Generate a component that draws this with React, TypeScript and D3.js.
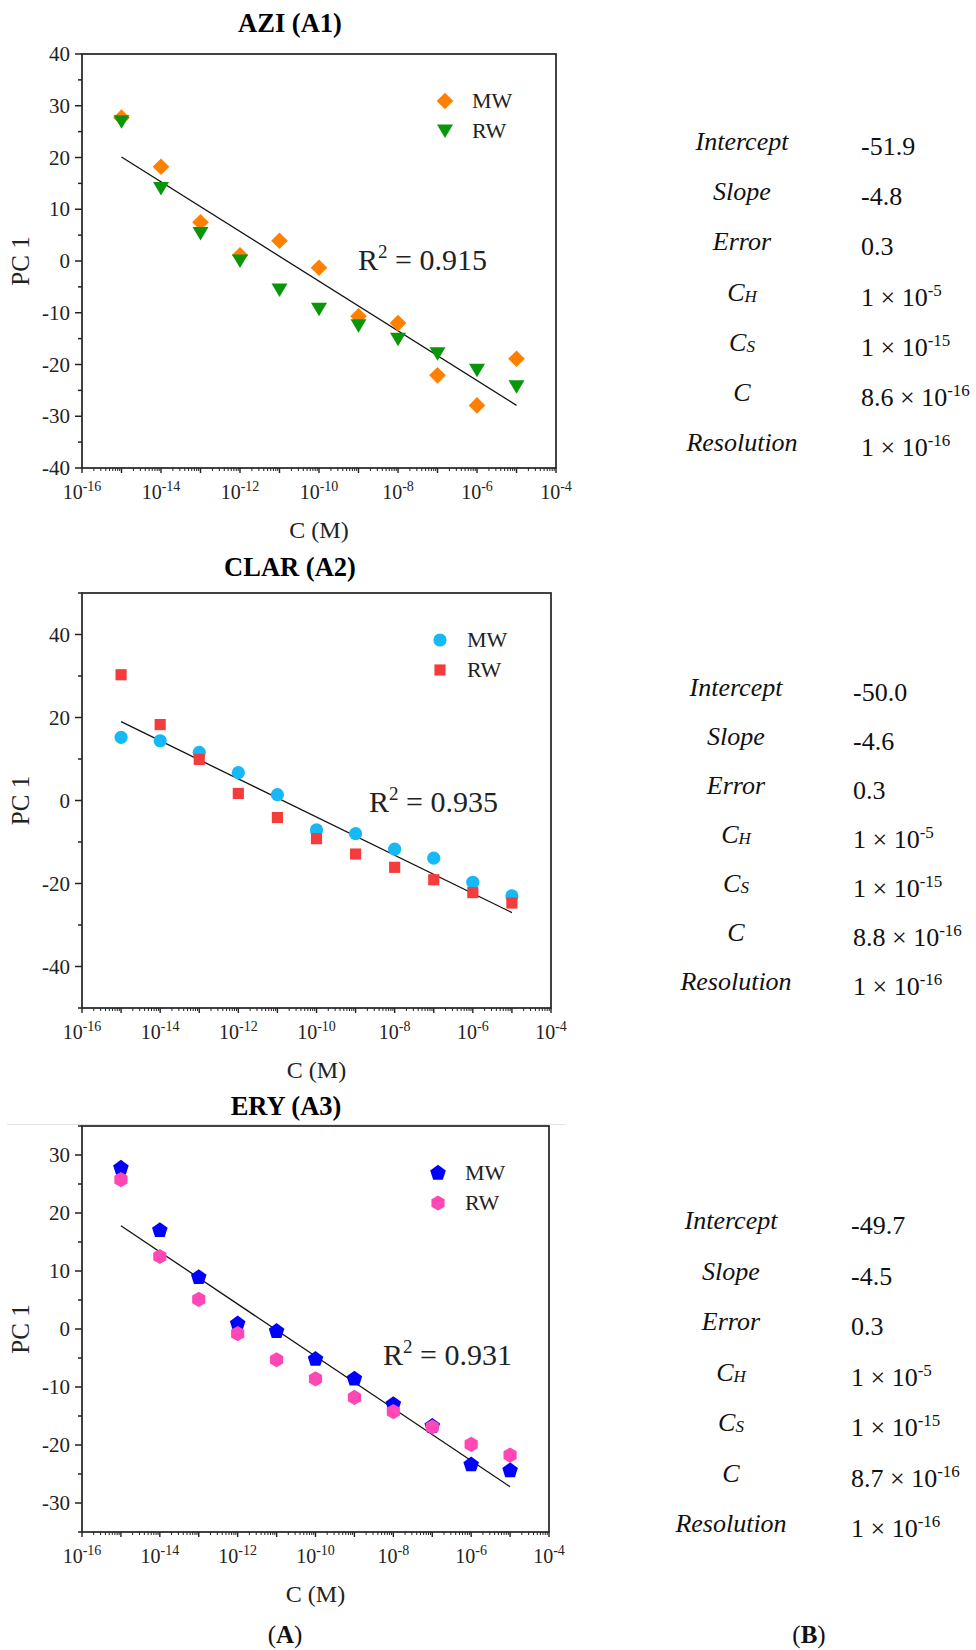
import React from "react";
import * as d3 from "d3";

// concentrations (M) shared by every panel
const concentrations = [1e-15, 1e-14, 1e-13, 1e-12, 1e-11, 1e-10, 1e-9, 1e-8, 1e-7, 1e-6, 1e-5];
const xLabelExponents = [-16, -14, -12, -10, -8, -6, -4];

// PC1 scores
const aziMW = [27.7, 18.2, 7.5, 1.1, 3.9, -1.3, -10.7, -12.0, -22.1, -27.9, -18.9];
const aziRW = [26.9, 14.0, 5.3, 0.0, -5.6, -9.3, -12.5, -15.1, -17.9, -21.1, -24.3];
const clarMW = [15.2, 14.4, 11.6, 6.7, 1.4, -7.1, -8.0, -11.7, -13.9, -19.7, -23.0];
const clarRW = [30.3, 18.3, 9.9, 1.7, -4.1, -9.2, -12.9, -16.1, -19.1, -22.2, -24.7];
const eryMW = [27.75, 17.0, 8.9, 0.9, -0.4, -5.2, -8.6, -13.0, -16.75, -23.4, -24.4];
const eryRW = [25.75, 12.5, 5.1, -0.8, -5.3, -8.6, -11.8, -14.25, -16.9, -19.9, -21.75];

const drugNames = ["AZI", "CLAR", "ERY"];
const panelTags = ["A1", "A2", "A3"];
const fitIntercepts = [-51.9, -50.0, -49.7];
const fitSlopes = [-4.8, -4.6, -4.5];
const r2Values = ["0.915", "0.935", "0.931"];
const yDomains = [[-40, 40], [-50, 50], [-35, 35]];
const yLabelSteps = [10, 20, 10];
const yMinorSteps = [5, 10, 5];

const tableLabels = ["Intercept", "Slope", "Error", "CH", "CS", "C", "Resolution"];
const aziTable = ["-51.9", "-4.8", "0.3", "1 × 10^-5", "1 × 10^-15", "8.6 × 10^-16", "1 × 10^-16"];
const clarTable = ["-50.0", "-4.6", "0.3", "1 × 10^-5", "1 × 10^-15", "8.8 × 10^-16", "1 × 10^-16"];
const eryTable = ["-49.7", "-4.5", "0.3", "1 × 10^-5", "1 × 10^-15", "8.7 × 10^-16", "1 × 10^-16"];

const series = [
  [aziMW, aziRW],
  [clarMW, clarRW],
  [eryMW, eryRW],
];
const tables = [aziTable, clarTable, eryTable];
const seriesNames = ["MW", "RW"];
const markerKinds = [
  ["diamond", "triangleDown"],
  ["circle", "square"],
  ["pentagon", "hexagon"],
];
const markerColors = [
  ["#ff8000", "#0a960a"],
  ["#14b9f5", "#f53c3c"],
  ["#0000ff", "#ff48b4"],
];

// layout of each panel (pixels)
const layout = [
  { left: 82, right: 556, top: 54, bottom: 468, titleX: 290, titleY: 32, r2X: 358, r2Y: 270, tabX: 742, valX: 861, rowTop: 142, rowBottom: 443 },
  { left: 82, right: 551, top: 593, bottom: 1008, titleX: 290, titleY: 576, r2X: 369, r2Y: 812, tabX: 736, valX: 853, rowTop: 688, rowBottom: 982 },
  { left: 82, right: 549, top: 1126, bottom: 1532, titleX: 286, titleY: 1115, r2X: 383, r2Y: 1365, tabX: 731, valX: 851, rowTop: 1221, rowBottom: 1524 },
];

const serif = "'Liberation Serif', 'Times New Roman', serif";

const polygon = (n: number, r: number, rot: number) => {
  const pts: [number, number][] = d3.range(n).map((i) => {
    const a = rot + (i * 2 * Math.PI) / n;
    return [r * Math.cos(a), r * Math.sin(a)];
  });
  return d3.line()(pts) + "Z";
};

const markerPath = (kind: string) => {
  switch (kind) {
    case "diamond":
      return polygon(4, 8.3, -Math.PI / 2);
    case "triangleDown":
      return "M-8,-6.5L8,-6.5L0,7Z";
    case "circle":
      return d3.symbol(d3.symbolCircle, Math.PI * 6.6 * 6.6)() as string;
    case "square":
      return d3.symbol(d3.symbolSquare, 125)() as string;
    case "pentagon":
      return polygon(5, 8.2, -Math.PI / 2);
    default:
      return polygon(6, 7.6, -Math.PI / 2);
  }
};

const Panel = ({ idx }: { idx: number }) => {
  const L = layout[idx];
  const x = d3.scaleLog().domain([1e-16, 1e-4]).range([L.left, L.right]);
  const y = d3.scaleLinear().domain(yDomains[idx]).range([L.bottom, L.top]);
  const [y0, y1] = yDomains[idx];

  const majorX = d3.range(-16, -3).map((e) => Math.pow(10, e));
  const minorX = d3.range(-16, -4).flatMap((e) => d3.range(2, 10).map((m) => m * Math.pow(10, e)));
  const yLabels = d3.range(Math.ceil(y0 / yLabelSteps[idx]) * yLabelSteps[idx], y1 + 0.01, yLabelSteps[idx]);
  const yMinor = d3.range(y0, y1 + 0.01, yMinorSteps[idx]).filter((v) => !yLabels.includes(v));

  const fit = d3
    .line<number>()
    .x((c) => x(c))
    .y((c) => y(fitIntercepts[idx] + fitSlopes[idx] * Math.log10(c)));
  const fitEnds = [concentrations[0], concentrations[concentrations.length - 1]];

  const rows = d3.scalePoint<string>().domain(tableLabels).range([L.rowTop, L.rowBottom]);

  return (
    <g>
      <text x={L.titleX} y={L.titleY} textAnchor="middle" fontFamily={serif} fontSize={26.5} fontWeight="bold">
        {drugNames[idx]} ({panelTags[idx]})
      </text>

      {/* y axis ticks */}
      {yLabels.map((v) => (
        <g key={"yl" + v}>
          <line x1={L.left - 7} x2={L.left} y1={y(v)} y2={y(v)} stroke="#222" strokeWidth={1.5} />
          <text x={L.left - 12} y={y(v) + 7} textAnchor="end" fontFamily={serif} fontSize={21} fill="#222">
            {v}
          </text>
        </g>
      ))}
      {yMinor.map((v) => (
        <line key={"ym" + v} x1={L.left - 4} x2={L.left} y1={y(v)} y2={y(v)} stroke="#222" strokeWidth={1.5} />
      ))}

      {/* x axis ticks */}
      {majorX.map((c) => (
        <line key={"xM" + c} x1={x(c)} x2={x(c)} y1={L.bottom} y2={L.bottom + 5} stroke="#222" strokeWidth={1.4} />
      ))}
      {minorX.map((c) => (
        <line key={"xm" + c} x1={x(c)} x2={x(c)} y1={L.bottom} y2={L.bottom + 3} stroke="#222" strokeWidth={1} />
      ))}
      {xLabelExponents.map((e) => (
        <text key={"xl" + e} x={x(Math.pow(10, e))} y={L.bottom + 31} textAnchor="middle" fontFamily={serif} fontSize={20} fill="#222">
          10
          <tspan fontSize={14} dy={-8}>
            {e}
          </tspan>
        </text>
      ))}

      <rect x={L.left} y={L.top} width={L.right - L.left} height={L.bottom - L.top} fill="none" stroke="#222" strokeWidth={1.7} />

      <text
        transform={`translate(${L.left - 53},${(L.top + L.bottom) / 2}) rotate(-90)`}
        textAnchor="middle"
        fontFamily={serif}
        fontSize={25}
        fill="#222"
      >
        PC 1
      </text>
      <text x={(L.left + L.right) / 2} y={L.bottom + 70} textAnchor="middle" fontFamily={serif} fontSize={24} fill="#222">
        C (M)
      </text>

      {/* regression line */}
      <path d={fit(fitEnds) as string} fill="none" stroke="#111" strokeWidth={1.3} />

      {/* points */}
      {series[idx].map((vals, s) =>
        vals.map((v, i) => (
          <path
            key={s + "-" + i}
            d={markerPath(markerKinds[idx][s])}
            transform={`translate(${x(concentrations[i])},${y(v)})`}
            fill={markerColors[idx][s]}
          />
        ))
      )}

      {/* legend */}
      {seriesNames.map((name, s) => (
        <g key={name} transform={`translate(${L.right - 111},${L.top + 47 + s * 30})`}>
          <path d={markerPath(markerKinds[idx][s])} fill={markerColors[idx][s]} />
          <text x={27} y={7} fontFamily={serif} fontSize={22} fill="#222">
            {name}
          </text>
        </g>
      ))}

      <text x={L.r2X} y={L.r2Y} fontFamily={serif} fontSize={30} fill="#222">
        R<tspan fontSize={19} dy={-12}>2</tspan>
        <tspan dy={12}> = {r2Values[idx]}</tspan>
      </text>

      {/* parameter table */}
      {tableLabels.map((lab) => (
        <text key={"tl" + lab} x={L.tabX} y={(rows(lab) as number) + 8} textAnchor="middle" fontFamily={serif} fontStyle="italic" fontSize={26} fill="#111">
          {lab.length === 2 ? (
            <>
              {lab[0]}
              <tspan fontSize={17} dy={1}>
                {lab[1]}
              </tspan>
            </>
          ) : (
            lab
          )}
        </text>
      ))}
      {tables[idx].map((val, r) => {
        const [base, sup] = val.split("^");
        return (
          <text key={"tv" + r} x={L.valX} y={(rows(tableLabels[r]) as number) + 13} fontFamily={serif} fontSize={26} fill="#111">
            {base}
            {sup && (
              <tspan fontSize={17} dy={-10}>
                {sup}
              </tspan>
            )}
          </text>
        );
      })}
    </g>
  );
};

export default function App() {
  return (
    <svg width={976} height={1650} style={{ position: "absolute", left: 0, top: 0, background: "#fff" }}>
      <rect width={976} height={1650} fill="#fff" />
      <line x1={7} x2={566} y1={1124.5} y2={1124.5} stroke="#e4e4e4" strokeWidth={1} />
      {layout.map((_, i) => (
        <Panel key={i} idx={i} />
      ))}
      <text x={285} y={1643} textAnchor="middle" fontFamily={serif} fontSize={25} fill="#111">
        (<tspan fontWeight="bold">A</tspan>)
      </text>
      <text x={809} y={1643} textAnchor="middle" fontFamily={serif} fontSize={25} fill="#111">
        (<tspan fontWeight="bold">B</tspan>)
      </text>
    </svg>
  );
}
